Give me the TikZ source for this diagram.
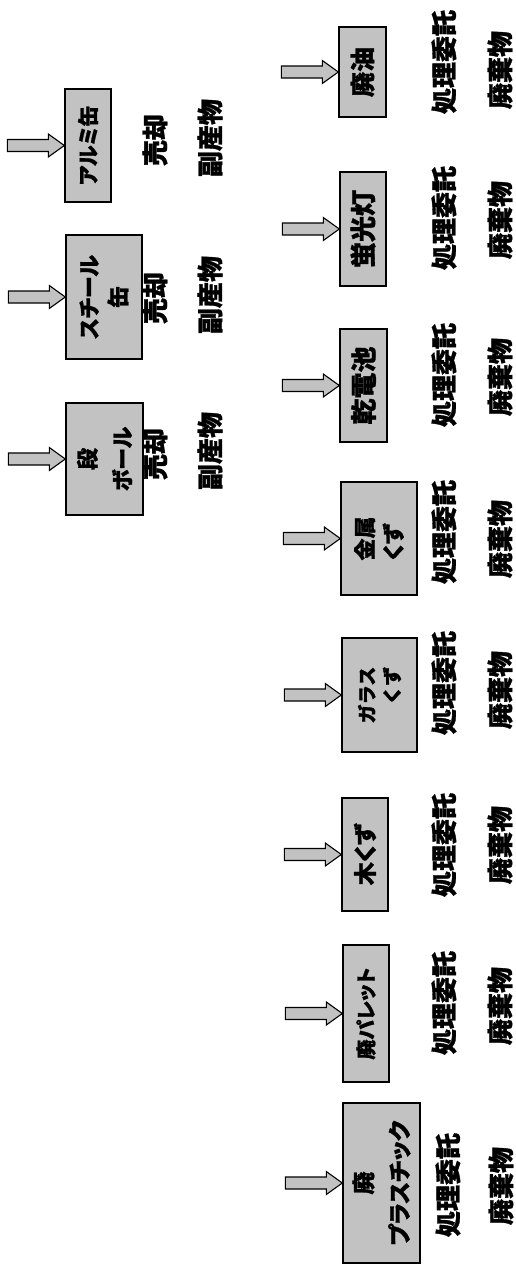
\documentclass[tikz,border=0pt]{standalone}
\usepackage{fontspec}
\usetikzlibrary{calc}
\newfontfamily\jp{Noto Sans CJK JP}[BoldFeatures={FakeBold=1.2}]
\newfontfamily\jpp{Noto Sans CJK JP}[RawFeature=+palt,BoldFeatures={FakeBold=1.2}]
\definecolor{boxgray}{gray}{0.76}
\newcommand\inarrow[2]{%
  \coordinate (#2) at ($(#1.north)+(-57,0)$);
  \draw[blk] ($(#2)+(0,-6)$) -- ($(#1.north)+(-16,-6)$) -- ($(#1.north)+(-16,-11.5)$)
    -- (#1.north) -- ($(#1.north)+(-16,11.5)$) -- ($(#1.north)+(-16,6)$) -- ($(#2)+(0,6)$) -- cycle;}
\tikzset{
  box/.style={draw=black, line width=1.4pt, fill=boxgray, rotate=90, inner sep=0pt, align=center},
  lab/.style={rotate=90, inner sep=0pt, font=\jp\bfseries\fontsize{26}{30}\selectfont},
  blk/.style={draw=black, line width=1.1pt, fill=boxgray, line join=miter},
}
\begin{document}
\begin{tikzpicture}[x=1pt,y=-1pt]
\useasboundingbox (0,0) rectangle (515,1266);
% top group
\node[box, minimum width=113, minimum height=46, font=\jpp\bfseries\fontsize{21}{26}\selectfont] (alu) at (88,145.5) {アルミ缶};
\node[box, minimum width=124, minimum height=76, font=\jpp\bfseries\fontsize{22}{29}\selectfont] (steel) at (104,297) {スチール\\缶};
\node[box, minimum width=112, minimum height=77, font=\jpp\bfseries\fontsize{22}{35}\selectfont] (dan) at (104.5,459) {段\\ボール};
% bottom group
\node[box, minimum width=90, minimum height=47, font=\jp\bfseries\fontsize{25}{30}\selectfont] (oil) at (362.5,72) {廃油};
\node[box, minimum width=114, minimum height=46, font=\jp\bfseries\fontsize{26}{30}\selectfont] (lamp) at (363,229) {蛍光灯};
\node[box, minimum width=113, minimum height=47, font=\jp\bfseries\fontsize{26}{30}\selectfont] (batt) at (363.5,385.5) {乾電池};
\node[box, minimum width=113, minimum height=76, align=left, font=\jpp\bfseries\fontsize{22}{28.5}\selectfont] (metal) at (379,538.5) {金属\\くず};
\node[box, minimum width=114, minimum height=75, align=right, font=\jp\bfseries\fontsize{19}{25}\selectfont] (glass) at (379.5,695) {ガラス\\くず};
\node[box, minimum width=113, minimum height=46, font=\jpp\bfseries\fontsize{23}{28}\selectfont] (wood) at (365,854.5) {木くず};
\node[box, minimum width=137, minimum height=46, font=\jpp\bfseries\fontsize{20}{25}\selectfont] (pal) at (366,1013.5) {廃パレット};
\node[box, minimum width=160, minimum height=77, font=\jpp\bfseries\fontsize{23}{36}\selectfont] (plas) at (381.5,1183) {廃\\プラスチック};
% arrows
\inarrow{alu}{a1}
\inarrow{steel}{a2}
\inarrow{dan}{a3}
\inarrow{oil}{b1}
\inarrow{lamp}{b2}
\inarrow{batt}{b3}
\inarrow{metal}{b4}
\inarrow{glass}{b5}
\inarrow{wood}{b6}
\inarrow{pal}{b7}
\inarrow{plas}{b8}
% labels top
\node[lab] (s1) at (155,140) {売却};
\node[lab] (s2) at (155,298) {売却};
\node[lab] (s3) at (155,454) {売却};
\node[lab] (f1) at (210,138) {副産物};
\node[lab] (f2) at (210,295) {副産物};
\node[lab] (f3) at (210,451) {副産物};
% labels bottom
\node[lab] (t1) at (444,62) {処理委託};
\node[lab] (t2) at (444,218) {処理委託};
\node[lab] (t3) at (444,375) {処理委託};
\node[lab] (t4) at (444,532) {処理委託};
\node[lab] (t5) at (444,683) {処理委託};
\node[lab] (t6) at (444,845) {処理委託};
\node[lab] (t7) at (444,1003) {処理委託};
\node[lab] (t8) at (448,1185) {処理委託};
\node[lab] (w1) at (500,70) {廃棄物};
\node[lab] (w2) at (500,220) {廃棄物};
\node[lab] (w3) at (500,377) {廃棄物};
\node[lab] (w4) at (500,539) {廃棄物};
\node[lab] (w5) at (500,690) {廃棄物};
\node[lab] (w6) at (500,845) {廃棄物};
\node[lab] (w7) at (500,1006) {廃棄物};
\node[lab] (w8) at (501,1186) {廃棄物};
\end{tikzpicture}
\end{document}
